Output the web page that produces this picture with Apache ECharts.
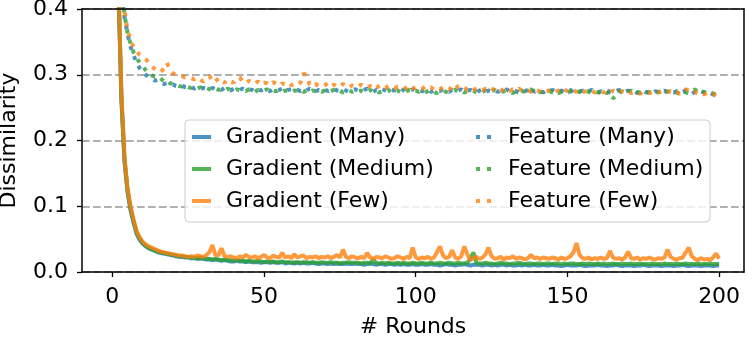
<!DOCTYPE html>
<html>
<head>
<meta charset="utf-8">
<script src="https://cdn.jsdelivr.net/npm/echarts@6/dist/echarts.min.js"></script>
<style>
  html, body { margin: 0; padding: 0; background: #fff; }
  #chart { width: 746px; height: 341px; }
</style>
</head>
<body>
<div id="chart"></div>
<script>
// rounds 1..200
var rounds = Array.from({ length: 200 }, function (_, i) { return i + 1; });

var xTicks = [0, 50, 100, 150, 200];
var yTicks = [0, 0.1, 0.2, 0.3, 0.4];

var names = ['Gradient (Many)', 'Gradient (Medium)', 'Gradient (Few)',
    'Feature (Many)', 'Feature (Medium)', 'Feature (Few)'];

var gradMany = [
    0.78,0.43,0.26,0.168,0.122,0.094,0.075,0.058,0.049,0.043,0.039,0.036,0.034,0.032,0.030,0.029,0.028,0.027,0.026,0.025,
    0.024,0.023,0.023,0.022,0.022,0.021,0.021,0.020,0.020,0.020,0.019,0.019,0.018,0.019,0.018,0.017,0.018,0.017,0.016,0.016,
    0.017,0.016,0.016,0.015,0.016,0.015,0.015,0.015,0.014,0.015,0.015,0.014,0.015,0.014,0.014,0.015,0.013,0.014,0.014,0.013,
    0.014,0.013,0.014,0.013,0.013,0.014,0.013,0.012,0.013,0.013,0.012,0.013,0.012,0.013,0.012,0.012,0.013,0.012,0.012,0.013,
    0.012,0.012,0.011,0.012,0.013,0.012,0.011,0.012,0.012,0.011,0.012,0.012,0.011,0.012,0.011,0.012,0.011,0.011,0.012,0.011,
    0.011,0.012,0.011,0.011,0.012,0.011,0.011,0.010,0.011,0.012,0.011,0.011,0.010,0.011,0.011,0.012,0.011,0.010,0.011,0.011,
    0.011,0.010,0.011,0.011,0.010,0.011,0.010,0.011,0.011,0.010,0.011,0.010,0.010,0.011,0.010,0.011,0.010,0.010,0.011,0.010,
    0.010,0.011,0.010,0.010,0.011,0.010,0.010,0.009,0.010,0.011,0.010,0.010,0.010,0.011,0.010,0.009,0.010,0.010,0.010,0.011,
    0.010,0.010,0.009,0.010,0.010,0.011,0.010,0.009,0.010,0.010,0.010,0.009,0.010,0.010,0.011,0.010,0.009,0.010,0.010,0.010,
    0.009,0.010,0.010,0.010,0.009,0.010,0.010,0.011,0.010,0.009,0.010,0.010,0.010,0.009,0.010,0.010,0.010,0.009,0.010,0.010
];

var gradMedium = [
    0.79,0.435,0.265,0.172,0.125,0.096,0.077,0.060,0.051,0.044,0.040,0.037,0.035,0.033,0.031,0.030,0.029,0.028,0.027,0.026,
    0.025,0.024,0.024,0.023,0.023,0.022,0.022,0.021,0.022,0.021,0.020,0.020,0.019,0.020,0.019,0.018,0.019,0.018,0.018,0.017,
    0.018,0.017,0.017,0.016,0.017,0.016,0.016,0.017,0.016,0.015,0.016,0.015,0.016,0.015,0.015,0.016,0.015,0.015,0.014,0.015,
    0.015,0.014,0.015,0.015,0.014,0.015,0.014,0.014,0.015,0.014,0.014,0.015,0.014,0.014,0.013,0.014,0.014,0.015,0.014,0.014,
    0.014,0.013,0.014,0.014,0.013,0.019,0.014,0.013,0.014,0.013,0.014,0.013,0.013,0.014,0.013,0.014,0.013,0.013,0.014,0.013,
    0.013,0.014,0.013,0.013,0.014,0.013,0.013,0.014,0.013,0.013,0.014,0.013,0.013,0.014,0.013,0.013,0.014,0.020,0.030,0.014,
    0.013,0.013,0.014,0.013,0.013,0.012,0.013,0.014,0.013,0.013,0.012,0.013,0.013,0.014,0.013,0.012,0.013,0.013,0.012,0.013,
    0.013,0.012,0.013,0.013,0.012,0.013,0.013,0.012,0.013,0.012,0.013,0.013,0.012,0.012,0.013,0.012,0.013,0.012,0.012,0.013,
    0.012,0.013,0.012,0.012,0.013,0.012,0.012,0.013,0.012,0.012,0.013,0.012,0.012,0.013,0.012,0.012,0.012,0.013,0.012,0.012,
    0.012,0.013,0.012,0.012,0.012,0.013,0.012,0.012,0.013,0.012,0.012,0.012,0.013,0.012,0.012,0.012,0.013,0.012,0.012,0.012
];

var gradFew = [
    0.80,0.44,0.27,0.175,0.128,0.100,0.080,0.062,0.053,0.046,0.042,0.039,0.037,0.035,0.033,0.031,0.030,0.029,0.028,0.027,
    0.026,0.025,0.025,0.024,0.023,0.024,0.023,0.025,0.024,0.023,0.026,0.030,0.041,0.025,0.026,0.036,0.024,0.023,0.024,0.022,
    0.021,0.024,0.022,0.026,0.023,0.022,0.024,0.021,0.023,0.026,0.022,0.021,0.025,0.023,0.022,0.029,0.022,0.024,0.021,0.027,
    0.022,0.024,0.025,0.021,0.023,0.022,0.024,0.021,0.023,0.022,0.024,0.021,0.023,0.026,0.022,0.034,0.023,0.021,0.024,0.022,
    0.021,0.023,0.021,0.029,0.022,0.020,0.023,0.022,0.021,0.024,0.022,0.020,0.021,0.024,0.022,0.020,0.023,0.021,0.037,0.022,
    0.020,0.022,0.021,0.023,0.020,0.022,0.030,0.039,0.025,0.021,0.023,0.033,0.022,0.020,0.024,0.039,0.027,0.018,0.021,0.023,
    0.020,0.022,0.027,0.037,0.024,0.020,0.021,0.023,0.019,0.022,0.021,0.024,0.020,0.022,0.021,0.019,0.021,0.026,0.021,0.022,
    0.020,0.022,0.021,0.020,0.022,0.021,0.019,0.022,0.020,0.021,0.024,0.030,0.044,0.026,0.021,0.020,0.022,0.019,0.021,0.020,
    0.022,0.020,0.021,0.032,0.022,0.020,0.021,0.019,0.022,0.031,0.021,0.020,0.022,0.019,0.021,0.020,0.022,0.020,0.019,0.021,
    0.020,0.022,0.034,0.023,0.020,0.019,0.021,0.022,0.030,0.037,0.024,0.020,0.018,0.021,0.019,0.020,0.018,0.022,0.028,0.020
];

var featMany = [
    0.60,0.49,0.425,0.388,0.362,0.343,0.330,0.318,0.310,0.304,0.300,0.296,0.294,0.291,0.292,0.288,0.286,0.287,0.284,0.285,
    0.283,0.282,0.284,0.281,0.280,0.282,0.279,0.281,0.278,0.280,0.279,0.277,0.280,0.278,0.279,0.277,0.280,0.278,0.276,0.279,
    0.278,0.277,0.279,0.276,0.278,0.277,0.275,0.278,0.276,0.279,0.277,0.275,0.278,0.276,0.277,0.279,0.275,0.277,0.278,0.276,
    0.277,0.275,0.278,0.276,0.279,0.277,0.274,0.277,0.276,0.278,0.275,0.277,0.279,0.276,0.275,0.278,0.276,0.274,0.277,0.278,
    0.276,0.275,0.277,0.279,0.276,0.274,0.277,0.275,0.278,0.276,0.274,0.277,0.276,0.278,0.275,0.277,0.274,0.276,0.278,0.275,
    0.277,0.275,0.276,0.278,0.274,0.276,0.277,0.275,0.278,0.276,0.274,0.277,0.275,0.276,0.278,0.274,0.276,0.277,0.275,0.273,
    0.276,0.278,0.274,0.276,0.275,0.277,0.274,0.276,0.275,0.278,0.274,0.276,0.275,0.273,0.276,0.275,0.277,0.281,0.274,0.276,
    0.275,0.273,0.276,0.274,0.277,0.275,0.273,0.276,0.274,0.275,0.277,0.273,0.275,0.274,0.276,0.273,0.275,0.277,0.274,0.272,
    0.275,0.273,0.276,0.274,0.272,0.275,0.277,0.273,0.274,0.276,0.273,0.275,0.272,0.274,0.276,0.273,0.274,0.272,0.275,0.273,
    0.274,0.276,0.272,0.274,0.273,0.275,0.272,0.274,0.276,0.273,0.271,0.274,0.272,0.275,0.273,0.271,0.273,0.270,0.268,0.266
];

var featMedium = [
    0.61,0.50,0.43,0.392,0.364,0.347,0.334,0.326,0.318,0.313,0.307,0.302,0.299,0.297,0.298,0.294,0.290,0.292,0.287,0.286,
    0.285,0.283,0.282,0.284,0.281,0.280,0.282,0.279,0.281,0.278,0.280,0.278,0.276,0.279,0.277,0.278,0.276,0.279,0.277,0.275,
    0.278,0.276,0.277,0.275,0.278,0.276,0.274,0.277,0.275,0.276,0.278,0.274,0.276,0.275,0.277,0.274,0.276,0.275,0.273,0.276,
    0.275,0.277,0.274,0.276,0.273,0.276,0.275,0.277,0.274,0.276,0.273,0.275,0.277,0.274,0.276,0.273,0.275,0.277,0.274,0.276,
    0.274,0.276,0.273,0.275,0.277,0.274,0.276,0.273,0.275,0.274,0.277,0.273,0.275,0.276,0.274,0.272,0.275,0.277,0.274,0.276,
    0.274,0.276,0.273,0.275,0.277,0.274,0.272,0.275,0.276,0.274,0.273,0.275,0.277,0.274,0.276,0.273,0.275,0.274,0.276,0.273,
    0.275,0.274,0.276,0.273,0.275,0.277,0.274,0.273,0.275,0.276,0.274,0.272,0.275,0.274,0.276,0.273,0.275,0.278,0.274,0.276,
    0.273,0.275,0.274,0.276,0.273,0.275,0.272,0.274,0.276,0.273,0.275,0.274,0.272,0.275,0.273,0.276,0.274,0.272,0.275,0.273,
    0.274,0.276,0.272,0.274,0.264,0.268,0.275,0.273,0.271,0.274,0.276,0.272,0.274,0.273,0.275,0.272,0.274,0.273,0.271,0.274,
    0.276,0.273,0.275,0.272,0.274,0.273,0.271,0.275,0.273,0.272,0.274,0.278,0.273,0.271,0.274,0.272,0.270,0.272,0.269,0.266
];

var featFew = [
    0.62,0.51,0.44,0.398,0.368,0.352,0.342,0.336,0.330,0.327,0.324,0.318,0.312,0.309,0.306,0.304,0.310,0.318,0.308,0.302,
    0.301,0.300,0.298,0.296,0.297,0.295,0.293,0.296,0.292,0.290,0.294,0.298,0.291,0.295,0.289,0.292,0.288,0.293,0.290,0.288,
    0.294,0.296,0.289,0.287,0.291,0.288,0.286,0.290,0.285,0.288,0.287,0.284,0.289,0.286,0.283,0.287,0.285,0.288,0.284,0.286,
    0.284,0.288,0.302,0.299,0.285,0.282,0.286,0.283,0.281,0.284,0.287,0.282,0.285,0.281,0.283,0.286,0.282,0.280,0.284,0.282,
    0.281,0.285,0.282,0.280,0.283,0.281,0.285,0.279,0.282,0.280,0.283,0.281,0.279,0.282,0.280,0.278,0.281,0.284,0.279,0.281,
    0.280,0.278,0.282,0.279,0.281,0.277,0.280,0.278,0.281,0.279,0.277,0.283,0.286,0.280,0.278,0.281,0.277,0.279,0.276,0.280,
    0.278,0.276,0.279,0.277,0.280,0.276,0.278,0.275,0.279,0.277,0.275,0.278,0.276,0.279,0.275,0.277,0.276,0.274,0.278,0.276,
    0.275,0.277,0.274,0.276,0.278,0.274,0.276,0.273,0.277,0.275,0.273,0.276,0.274,0.277,0.273,0.275,0.274,0.276,0.273,0.275,
    0.276,0.273,0.275,0.272,0.276,0.274,0.272,0.275,0.273,0.276,0.272,0.274,0.273,0.271,0.275,0.273,0.272,0.274,0.271,0.273,
    0.274,0.271,0.273,0.275,0.272,0.274,0.271,0.273,0.278,0.276,0.272,0.274,0.271,0.273,0.270,0.272,0.269,0.271,0.268,0.265
];

var colors = ['rgba(31,119,180,0.8)', 'rgba(44,160,44,0.8)', 'rgba(255,127,14,0.8)'];
var font = 'DejaVu Sans';

function pairs(vals) {
    return rounds.map(function (r, i) { return [r, vals[i]]; });
}

function lineSeries(name, vals, color, dotted) {
    return {
        name: name,
        type: 'line',
        data: pairs(vals),
        symbol: 'none',
        showSymbol: false,
        animation: false,
        color: color,
        lineStyle: {
            width: 4,
            color: color,
            type: dotted ? [4, 6.6] : 'solid',
            cap: 'butt'
        }
    };
}

var chart = echarts.init(document.getElementById('chart'));
chart.setOption({
    animation: false,
    textStyle: { fontFamily: font },
    grid: { left: 82, right: 2, top: 9, bottom: 69, containLabel: false, outerBoundsMode: 'none' },
    graphic: [{
        type: 'rect',
        z: 3,
        shape: { x: 185, y: 120, width: 525, height: 102, r: 4 },
        style: { fill: 'rgba(255,255,255,0.8)', stroke: '#cccccc', lineWidth: 1 }
    }],
    legend: [{
        data: names.slice(0, 3).map(function (n) { return { name: n, icon: 'rect' }; }),
        orient: 'vertical',
        left: 192, top: 126,
        padding: 0,
        itemWidth: 19, itemHeight: 4, itemGap: 10,
        z: 4,
        textStyle: { fontFamily: font, fontSize: 22, lineHeight: 22, color: '#000', padding: [0, 0, 0, 10] }
    }, {
        data: names.slice(3).map(function (n) { return { name: n, icon: 'path://M0,0h4v4h-4zM11,0h4v4h-4z' }; }),
        orient: 'vertical',
        left: 476, top: 126,
        padding: 0,
        itemWidth: 15, itemHeight: 4, itemGap: 10,
        z: 4,
        textStyle: { fontFamily: font, fontSize: 22, lineHeight: 22, color: '#000', padding: [0, 0, 0, 12] }
    }],
    xAxis: [{
        type: 'value',
        min: -10, max: 208.2,
        name: '# Rounds',
        nameLocation: 'middle',
        nameGap: 44,
        nameTextStyle: { fontFamily: font, fontSize: 22, lineHeight: 22, color: '#000' },
        axisLine: { onZero: false, lineStyle: { color: '#000', width: 1.5 } },
        axisTick: { customValues: xTicks, length: 5, lineStyle: { color: '#000', width: 1.3 } },
        axisLabel: { customValues: xTicks, margin: 14, fontFamily: font, fontSize: 22, color: '#000' },
        splitLine: { show: false },
        z: 5
    }, {
        type: 'value',
        position: 'top',
        min: -10, max: 208.2,
        axisLine: { show: true, onZero: false, lineStyle: { color: '#000', width: 1.5 } },
        axisTick: { show: false },
        axisLabel: { show: false },
        splitLine: { show: false },
        z: 5
    }],
    yAxis: [{
        type: 'value',
        min: 0, max: 0.4, interval: 0.1,
        name: 'Dissimilarity',
        nameLocation: 'middle',
        nameGap: 62,
        nameTextStyle: { fontFamily: font, fontSize: 22, lineHeight: 22, color: '#000' },
        axisLine: { show: true, onZero: false, lineStyle: { color: '#000', width: 1.5 } },
        axisTick: { show: true, length: 5, lineStyle: { color: '#000', width: 1.3 } },
        axisLabel: {
            margin: 14, fontFamily: font, fontSize: 22, color: '#000',
            formatter: function (v) { return v.toFixed(1); }
        },
        splitLine: { show: true, lineStyle: { color: '#b0b0b0', width: 2, type: [7.7, 3.3] } }
    }, {
        type: 'value',
        position: 'right',
        min: 0, max: 0.4,
        axisLine: { show: true, onZero: false, lineStyle: { color: '#000', width: 1.5 } },
        axisTick: { show: false },
        axisLabel: { show: false },
        splitLine: { show: false },
        z: 5
    }],
    series: [
        lineSeries(names[0], gradMany, colors[0], false),
        lineSeries(names[1], gradMedium, colors[1], false),
        lineSeries(names[2], gradFew, colors[2], false),
        lineSeries(names[3], featMany, colors[0], true),
        lineSeries(names[4], featMedium, colors[1], true),
        lineSeries(names[5], featFew, colors[2], true)
    ]
});
</script>
</body>
</html>
